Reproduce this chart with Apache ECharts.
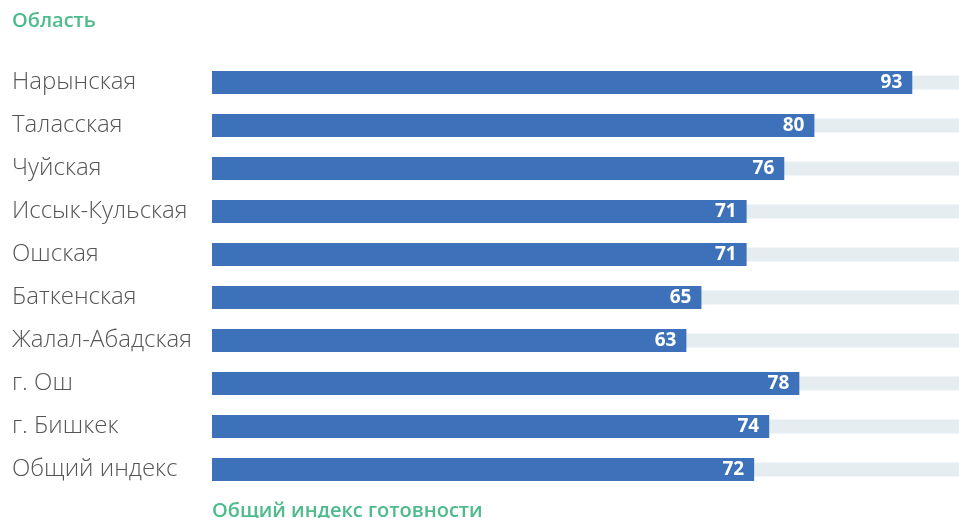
<!DOCTYPE html>
<html>
<head>
<meta charset="utf-8">
<script src="https://cdn.jsdelivr.net/npm/echarts@6/dist/echarts.min.js"></script>
<style>
  html, body { margin: 0; padding: 0; background: #fff; overflow: hidden; }
  /* slightly wider than the window so the track bars run off the right edge */
  #chart { width: 965px; height: 518px; }
</style>
</head>
<body>
<div id="chart"></div>
<script>
const regions = ['Нарынская', 'Таласская', 'Чуйская', 'Иссык-Кульская', 'Ошская', 'Баткенская', 'Жалал-Абадская', 'г. Ош', 'г. Бишкек', 'Общий индекс']
const readiness = [93, 80, 76, 71, 71, 65, 63, 78, 74, 72]
const scaleMax = 100

const green = '#4dbb8b'
const fontFamily = '"Open Sans", "Noto Sans", sans-serif'

const chart = echarts.init(document.getElementById('chart'))

chart.setOption({
  animation: false,
  title: [
    {
      text: 'Область',
      left: 12,
      top: 11,
      padding: 0,
      textStyle: { color: green, fontSize: 20, fontWeight: 600, fontFamily },
    },
    {
      text: 'Общий индекс готовности',
      left: 212,
      top: 501,
      padding: 0,
      textStyle: { color: green, fontSize: 20, fontWeight: 600, fontFamily },
    },
  ],
  grid: { left: 212, right: 0, top: 61, bottom: 27 },
  xAxis: {
    type: 'value',
    min: 0,
    max: scaleMax,
    show: false,
  },
  yAxis: [
    {
      type: 'category',
      inverse: true,
      data: regions,
      axisLine: { show: false },
      axisTick: { show: false },
      axisLabel: {
        align: 'left',
        margin: 200,
        color: '#555',
        fontSize: 24,
        fontWeight: 300,
        fontFamily,
        padding: [0, 0, 4, 0],
      },
    },
    {
      type: 'category',
      inverse: true,
      data: regions,
      show: false,
    },
  ],
  series: [
    {
      type: 'bar',
      yAxisIndex: 1,
      barWidth: 14,
      silent: true,
      data: regions.map(() => scaleMax),
      itemStyle: { color: '#e6edf1' },
      z: 1,
    },
    {
      type: 'bar',
      yAxisIndex: 0,
      barWidth: 23,
      data: readiness,
      itemStyle: { color: '#3d72bb' },
      label: {
        show: true,
        position: 'insideRight',
        distance: 10,
        color: '#fff',
        fontSize: 19,
        fontWeight: 'bold',
        fontFamily,
      },
      z: 2,
    },
  ],
})
</script>
</body>
</html>
